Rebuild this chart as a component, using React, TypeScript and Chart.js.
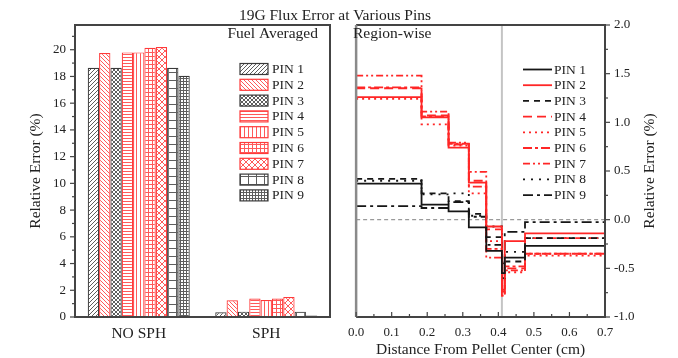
import React, { useEffect, useRef } from 'react';
import { Chart, registerables } from 'chart.js';

Chart.register(...registerables);

const SERIF = '"Liberation Serif", "Times New Roman", serif';
const INK = '#222222';
const RED = '#ff2626';
const DARK = '#161616';
const FRAME = '#444444';

// ---- data ----
const pinNames = ['PIN 1', 'PIN 2', 'PIN 3', 'PIN 4', 'PIN 5', 'PIN 6', 'PIN 7', 'PIN 8', 'PIN 9'];
const barGroups = ['NO SPH', 'SPH'];
const noSphError = [18.65, 19.75, 18.65, 19.8, 19.8, 20.15, 20.2, 18.65, 18.05];
const sphError = [0.35, 1.25, 0.4, 1.38, 1.27, 1.38, 1.5, 0.4, 0.12];

// radial region boundaries (cm)
const regionEdges = [0, 0.184, 0.26, 0.317, 0.366, 0.41, 0.418, 0.475, 0.7];
// region-wise relative error (%) per pin, one value per region
const pin1Region = [0.37, 0.155, 0.085, -0.08, -0.32, -0.55, -0.39, -0.27];
const pin2Region = [1.26, 1.05, 0.74, 0.38, -0.07, -0.72, -0.22, -0.14];
const pin3Region = [0.42, 0.27, 0.19, 0.06, -0.18, -0.6, -0.43, -0.19];
const pin4Region = [1.35, 1.07, 0.77, 0.4, -0.1, -0.74, -0.5, -0.19];
const pin5Region = [1.24, 0.98, 0.76, 0.27, -0.22, -0.78, -0.54, -0.37];
const pin6Region = [1.36, 1.06, 0.78, 0.34, -0.3, -0.76, -0.48, -0.35];
const pin7Region = [1.48, 1.11, 0.79, 0.49, -0.39, -0.78, -0.52, -0.35];
const pin8Region = [0.4, 0.26, 0.27, 0.04, -0.07, -0.5, -0.33, -0.19];
const pin9Region = [0.14, 0.12, 0.18, 0.03, -0.26, -0.45, -0.125, -0.025];

const barTicks = [0, 2, 4, 6, 8, 10, 12, 14, 16, 18, 20];
const referenceRadius = 0.41;

const regionSeries = [
  pin1Region, pin2Region, pin3Region, pin4Region, pin5Region,
  pin6Region, pin7Region, pin8Region, pin9Region,
];

// ---- styles ----
const isRed = [false, true, false, true, true, true, true, false, false];
const hatchKinds = ['slash', 'back', 'cross', 'horiz', 'vert', 'grid', 'diamond', 'gridWide', 'gridDense'];
const lineDashes: number[][] = [
  [], [], [6, 5], [9, 5], [2, 4], [9, 3, 3, 3], [7, 3, 2, 3, 2, 3], [2, 6], [10, 4, 3, 4],
];

function makePattern(kind: string, color: string): CanvasPattern {
  const sizes: Record<string, number> = {
    slash: 4, back: 4, cross: 4, horiz: 3, vert: 4, grid: 4, diamond: 6, gridWide: 8, gridDense: 3,
  };
  const s = sizes[kind];
  const c = document.createElement('canvas');
  c.width = s;
  c.height = s;
  const g = c.getContext('2d')!;
  g.fillStyle = '#ffffff';
  g.fillRect(0, 0, s, s);
  g.strokeStyle = color;
  g.lineWidth = 1;
  g.beginPath();
  const slash = () => {
    for (const k of [0, s, 2 * s]) {
      g.moveTo(-1, k + 1);
      g.lineTo(k + 1, -1);
    }
  };
  const back = () => {
    for (const k of [-s, 0, s]) {
      g.moveTo(-1, k - 1);
      g.lineTo(s + 1, k + s + 1);
    }
  };
  const horiz = () => {
    g.moveTo(0, 0.5);
    g.lineTo(s, 0.5);
  };
  const vert = () => {
    g.moveTo(0.5, 0);
    g.lineTo(0.5, s);
  };
  if (kind === 'slash') slash();
  if (kind === 'back') back();
  if (kind === 'cross' || kind === 'diamond') {
    slash();
    back();
  }
  if (kind === 'horiz') horiz();
  if (kind === 'vert') vert();
  if (kind === 'grid' || kind === 'gridWide' || kind === 'gridDense') {
    horiz();
    vert();
  }
  g.stroke();
  return g.createPattern(c, 'repeat')!;
}

function drawTick(ctx: CanvasRenderingContext2D, x1: number, y1: number, x2: number, y2: number) {
  ctx.beginPath();
  ctx.moveTo(x1, y1);
  ctx.lineTo(x2, y2);
  ctx.stroke();
}

// ---- left panel: fuel averaged bars ----
function barConfig(): any {
  const patterns = hatchKinds.map((k, i) => makePattern(k, isRed[i] ? '#ff5a5a' : '#5e5e5e'));
  const datasets = pinNames.map((name, i) => ({
    label: name,
    data: [noSphError[i], sphError[i]],
    backgroundColor: patterns[i],
    borderColor: isRed[i] ? '#ff3a3a' : '#3a3a3a',
    borderWidth: 1.2,
    categoryPercentage: 0.8,
    barPercentage: 1,
  }));

  const decor = {
    id: 'barDecor',
    afterDraw(chart: any) {
      const { ctx, chartArea: a } = chart;
      const y = chart.scales.y;
      ctx.save();
      // frame
      ctx.strokeStyle = FRAME;
      ctx.lineWidth = 2;
      ctx.strokeRect(a.left, a.top, a.right - a.left, a.bottom - a.top);
      // major and minor ticks, outward
      ctx.lineWidth = 1.2;
      for (let v = 0; v <= 21; v += 1) {
        const py = y.getPixelForValue(v);
        drawTick(ctx, a.left - (v % 2 === 0 ? 5 : 3), py, a.left, py);
      }
      // panel label
      ctx.fillStyle = INK;
      ctx.font = `15.5px ${SERIF}`;
      ctx.textAlign = 'right';
      ctx.textBaseline = 'middle';
      ctx.fillText('Fuel Averaged', 318, 34);
      // legend
      ctx.font = `13.5px ${SERIF}`;
      ctx.textAlign = 'left';
      chart.data.datasets.forEach((ds: any, i: number) => {
        const cy = 69 + i * 15.8;
        ctx.fillStyle = ds.backgroundColor;
        ctx.fillRect(240, cy - 5.5, 28, 11);
        ctx.strokeStyle = ds.borderColor;
        ctx.lineWidth = 1.2;
        ctx.strokeRect(240, cy - 5.5, 28, 11);
        ctx.fillStyle = INK;
        ctx.fillText(ds.label, 272, cy + 0.5);
      });
      ctx.restore();
    },
  };

  return {
    type: 'bar',
    data: { labels: barGroups, datasets },
    options: {
      animation: false,
      responsive: false,
      maintainAspectRatio: false,
      layout: { padding: { top: 25, right: 10, left: 0, bottom: 0 } },
      plugins: { legend: { display: false }, tooltip: { enabled: false } },
      scales: {
        x: {
          grid: { display: false, drawTicks: false },
          border: { display: false },
          ticks: { color: INK, font: { family: SERIF, size: 15.5 }, padding: 8 },
          afterFit: (s: any) => {
            s.height = 41;
          },
        },
        y: {
          min: 0,
          max: 21.85,
          grid: { display: false, drawTicks: false },
          border: { display: false },
          afterBuildTicks: (s: any) => {
            s.ticks = barTicks.map((value) => ({ value }));
          },
          ticks: { color: INK, font: { family: SERIF, size: 13 }, padding: 9 },
          title: {
            display: true,
            text: 'Relative Error (%)',
            color: INK,
            font: { family: SERIF, size: 15.5, lineHeight: 1.2 },
            padding: { top: 27, bottom: 0 },
          },
          afterFit: (s: any) => {
            s.width = 75;
          },
        },
      },
    },
    plugins: [decor],
  };
}

// ---- right panel: region-wise step profiles ----
function stepConfig(): any {
  const datasets = pinNames.map((name, i) => ({
    label: name,
    data: regionEdges.map((x, k) => ({
      x,
      y: regionSeries[i][Math.min(k, regionSeries[i].length - 1)],
    })),
    borderColor: isRed[i] ? RED : DARK,
    borderWidth: 1.8,
    borderDash: lineDashes[i],
    stepped: 'before',
    pointRadius: 0,
    fill: false,
  }));

  const guides = {
    id: 'guides',
    beforeDatasetsDraw(chart: any) {
      const { ctx, chartArea: a } = chart;
      const x = chart.scales.x;
      const y = chart.scales.y;
      ctx.save();
      ctx.strokeStyle = '#c4c4c4';
      ctx.lineWidth = 2;
      const gx = x.getPixelForValue(referenceRadius);
      drawTick(ctx, gx, a.top, gx, a.bottom);
      ctx.strokeStyle = '#9a9a9a';
      ctx.lineWidth = 1.3;
      ctx.setLineDash([4, 3]);
      const zy = y.getPixelForValue(0);
      drawTick(ctx, a.left, zy, a.right, zy);
      ctx.restore();
    },
  };

  const decor = {
    id: 'stepDecor',
    afterDraw(chart: any) {
      const { ctx, chartArea: a } = chart;
      const x = chart.scales.x;
      const y = chart.scales.y;
      ctx.save();
      // frame
      ctx.lineWidth = 2;
      ctx.strokeStyle = FRAME;
      ctx.beginPath();
      ctx.moveTo(a.left, a.top);
      ctx.lineTo(a.right, a.top);
      ctx.lineTo(a.right, a.bottom);
      ctx.lineTo(a.left, a.bottom);
      ctx.stroke();
      ctx.strokeStyle = '#8a8a8a';
      ctx.lineWidth = 2.5;
      drawTick(ctx, a.left, a.top, a.left, a.bottom);
      // right axis ticks (outward)
      ctx.strokeStyle = FRAME;
      ctx.lineWidth = 1.2;
      for (let k = 0; k <= 12; k++) {
        const v = -1 + k * 0.25;
        const py = y.getPixelForValue(v);
        drawTick(ctx, a.right, py, a.right + (k % 2 === 0 ? 5 : 3), py);
      }
      // bottom axis ticks (inward)
      for (let k = 0; k <= 14; k++) {
        const px = x.getPixelForValue(k * 0.05);
        drawTick(ctx, px, a.bottom, px, a.bottom - (k % 2 === 0 ? 5 : 3));
      }
      // panel label
      ctx.fillStyle = INK;
      ctx.font = `15.5px ${SERIF}`;
      ctx.textAlign = 'left';
      ctx.textBaseline = 'middle';
      ctx.fillText('Region-wise', 13, 34);
      // right axis title, reading upward
      ctx.save();
      ctx.translate(310, (a.top + a.bottom) / 2);
      ctx.rotate(-Math.PI / 2);
      ctx.textAlign = 'center';
      ctx.fillText('Relative Error (%)', 0, 0);
      ctx.restore();
      // legend
      ctx.font = `13.5px ${SERIF}`;
      ctx.textAlign = 'left';
      chart.data.datasets.forEach((ds: any, i: number) => {
        const cy = 69.5 + i * 15.7;
        ctx.strokeStyle = ds.borderColor;
        ctx.lineWidth = 1.8;
        ctx.setLineDash(ds.borderDash);
        drawTick(ctx, 183, cy, 212, cy);
        ctx.setLineDash([]);
        ctx.fillStyle = INK;
        ctx.fillText(ds.label, 214, cy + 0.5);
      });
      ctx.restore();
    },
  };

  return {
    type: 'line',
    data: { datasets },
    options: {
      animation: false,
      responsive: false,
      maintainAspectRatio: false,
      layout: { padding: { top: 25, right: 0, left: 11, bottom: 0 } },
      plugins: { legend: { display: false }, tooltip: { enabled: false } },
      scales: {
        x: {
          type: 'linear',
          min: 0,
          max: 0.7,
          grid: { display: false, drawTicks: false },
          border: { display: false },
          ticks: {
            stepSize: 0.1,
            color: INK,
            font: { family: SERIF, size: 13 },
            padding: 8,
            callback: (v: any) => Number(v).toFixed(1),
          },
          title: {
            display: true,
            text: 'Distance From Pellet Center (cm)',
            color: INK,
            font: { family: SERIF, size: 15.5, lineHeight: 1 },
            padding: { top: 0, bottom: 0.5 },
          },
          afterFit: (s: any) => {
            s.height = 41;
          },
        },
        y: {
          position: 'right',
          min: -1,
          max: 2,
          grid: { display: false, drawTicks: false },
          border: { display: false },
          ticks: {
            stepSize: 0.5,
            color: INK,
            font: { family: SERIF, size: 13 },
            padding: 9,
            callback: (v: any) => Number(v).toFixed(1),
          },
          afterFit: (s: any) => {
            s.width = 73;
          },
        },
      },
    },
    plugins: [guides, decor],
  };
}

export default function App() {
  const leftRef = useRef<HTMLCanvasElement>(null);
  const rightRef = useRef<HTMLCanvasElement>(null);

  useEffect(() => {
    const left = new Chart(leftRef.current!, barConfig());
    const right = new Chart(rightRef.current!, stepConfig());
    return () => {
      left.destroy();
      right.destroy();
    };
  }, []);

  return (
    <div
      style={{
        position: 'absolute',
        left: 0,
        top: 0,
        width: 678,
        height: 358,
        background: '#ffffff',
        overflow: 'hidden',
      }}
    >
      <canvas
        ref={leftRef}
        width={340}
        height={358}
        style={{ position: 'absolute', left: 0, top: 0, width: 340, height: 358 }}
      />
      <canvas
        ref={rightRef}
        width={338}
        height={358}
        style={{ position: 'absolute', left: 340, top: 0, width: 338, height: 358 }}
      />
      <div
        style={{
          position: 'absolute',
          left: 135,
          top: 6,
          width: 400,
          textAlign: 'center',
          fontFamily: SERIF,
          fontSize: 15.5,
          lineHeight: '18px',
          color: INK,
        }}
      >
        19G Flux Error at Various Pins
      </div>
    </div>
  );
}
